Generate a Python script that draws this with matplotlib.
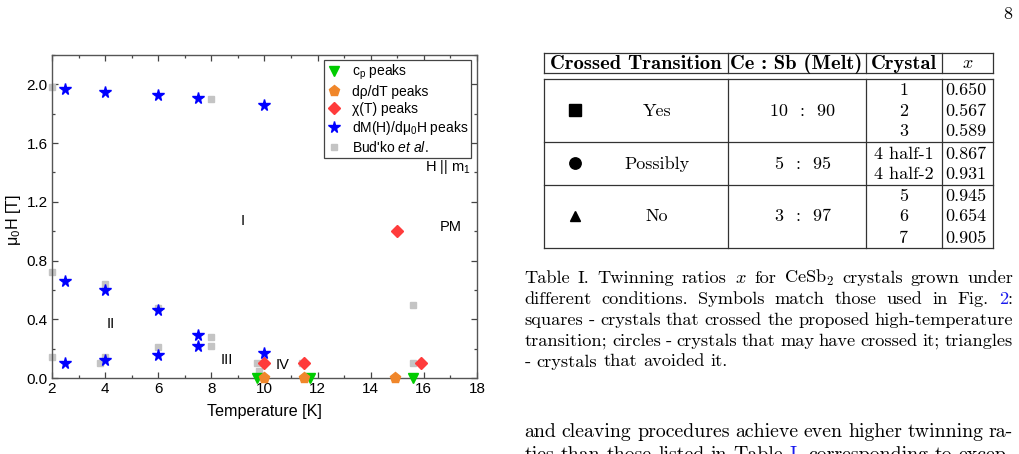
import matplotlib
matplotlib.use('Agg')
import matplotlib.pyplot as plt
from matplotlib.ticker import MultipleLocator, FormatStrFormatter
from matplotlib.lines import Line2D

plt.rcParams['font.family'] = ['Liberation Sans', 'DejaVu Sans']
plt.rcParams['mathtext.fontset'] = 'custom'
plt.rcParams['mathtext.rm'] = 'Liberation Sans'
plt.rcParams['mathtext.it'] = 'Liberation Sans:italic'
plt.rcParams['mathtext.bf'] = 'Liberation Sans:bold'

# ---------------- data ----------------
cp_T = [9.7, 11.7, 15.6]
cp_H = [0.0, 0.0, 0.0]
drho_T = [10.0, 11.5, 14.9]
drho_H = [0.0, 0.0, 0.0]
chi_T = [10.0, 11.5, 15.0, 15.9]
chi_H = [0.10, 0.10, 1.00, 0.10]
dM_T = [2.5, 4.0, 6.0, 7.5, 10.0, 2.5, 4.0, 6.0, 7.5, 7.5, 6.0, 4.0, 2.5, 10.0]
dM_H = [1.97, 1.95, 1.93, 1.91, 1.86, 0.66, 0.60, 0.46, 0.29, 0.22, 0.16, 0.12, 0.10, 0.17]
budko_T = [2.0, 8.0, 2.0, 4.0, 6.0, 8.0, 8.0, 6.0, 2.0, 3.8, 4.0, 9.7, 9.8, 11.4, 15.6, 15.6]
budko_H = [1.98, 1.90, 0.72, 0.64, 0.48, 0.28, 0.22, 0.21, 0.14, 0.10, 0.14, 0.10, 0.05, 0.10, 0.50, 0.10]

legend_labels = ['c$_\\mathregular{p}$ peaks', 'dρ/dT peaks', 'χ(T) peaks',
                 'dM(H)/dμ$_\\mathregular{0}$H peaks', "Bud'ko $\\it{et\\ al.}$"]
x_ticks = [2, 4, 6, 8, 10, 12, 14, 16, 18]
y_ticks = [0.0, 0.4, 0.8, 1.2, 1.6, 2.0]

region_labels = ['I', 'II', 'III', 'IV', 'PM', 'H || m$_\\mathregular{1}$']
region_T = [9.17, 4.23, 8.59, 10.69, 17.0, 16.05]
region_H = [1.07, 0.37, 0.12, 0.09, 1.03, 1.44]

table_header = ['Crossed Transition', 'Ce : Sb (Melt)', 'Crystal', '$x$']
table_groups = ['Yes', 'Possibly', 'No']
table_melts = ['10  :  90', '5  :  95', '3  :  97']
table_crystals = [['1', '2', '3'], ['4 half-1', '4 half-2'], ['5', '6', '7']]
table_x = [['0.650', '0.567', '0.589'], ['0.867', '0.931'], ['0.945', '0.654', '0.905']]

caption_lines = [
    "Table I. Twinning ratios $x$ for CeSb$_2$ crystals grown under",
    "different conditions.  Symbols match those used in Fig. [2]:",
    "squares - crystals that crossed the proposed high-temperature",
    "transition; circles - crystals that may have crossed it; triangles",
    "- crystals that avoided it.",
]
body_lines = [
    "and cleaving procedures achieve even higher twinning ra-",
    "ties than those listed in Table [I], corresponding to excep-",
]

# ---------------- figure ----------------
fig = plt.figure(figsize=(10.2, 4.54), dpi=100)
pg = fig.add_axes([0, 0, 1, 1])
pg.set_xlim(0, 1020)
pg.set_ylim(454, 0)
pg.axis('off')

ax = fig.add_axes([52 / 1020, 1 - 378 / 454, 425 / 1020, 323 / 454])
ax.set_xlim(2, 18)
ax.set_ylim(0, 2.2)

ax.plot(budko_T, budko_H, ls='none', marker='s', ms=5, color='#C4C4C4',
        clip_on=False, zorder=2, label=legend_labels[4])
ax.plot(dM_T, dM_H, ls='none', marker='*', ms=8.5, color='#0000FF',
        clip_on=False, zorder=5, label=legend_labels[3])
ax.plot(chi_T, chi_H, ls='none', marker='D', ms=6, color='#FF3B3B',
        clip_on=False, zorder=4, label=legend_labels[2])
ax.plot(cp_T, cp_H, ls='none', marker='v', ms=7.5, color='#00CC00',
        clip_on=False, zorder=3, label=legend_labels[0])
ax.plot(drho_T, drho_H, ls='none', marker='p', ms=8, color='#F0862A',
        clip_on=False, zorder=4, label=legend_labels[1])

handles, labels = ax.get_legend_handles_labels()
order = [labels.index(l) for l in legend_labels]
leg = ax.legend([handles[i] for i in order], [labels[i] for i in order],
                loc='upper right', bbox_to_anchor=(0.986, 0.985),
                borderaxespad=0, fontsize=10, frameon=True, fancybox=False,
                edgecolor='#444444', framealpha=1, handlelength=1.0,
                handletextpad=0.8, labelspacing=0.22, borderpad=0.2,
                numpoints=1)
leg.get_frame().set_linewidth(0.9)

ax.xaxis.set_minor_locator(MultipleLocator(1))
ax.yaxis.set_minor_locator(MultipleLocator(0.2))
ax.set_xticks(x_ticks)
ax.set_yticks(y_ticks)
ax.yaxis.set_major_formatter(FormatStrFormatter('%.1f'))
ax.tick_params(which='both', direction='in', top=True, right=True,
               color='#444444', labelsize=11, width=0.9)
ax.tick_params(which='major', length=4, pad=3)
ax.tick_params(which='minor', length=2.5)
for s in ax.spines.values():
    s.set_color('#555555')
    s.set_linewidth(1.0)

ax.set_xlabel('Temperature [K]', fontsize=11.6)
ax.set_ylabel('μ$_\\mathregular{0}$H [T]', fontsize=11.6)
ax.xaxis.set_label_coords(0.5, -0.082)
ax.yaxis.set_label_coords(-0.068, 0.49)

for lab, t, h in zip(region_labels, region_T, region_H):
    ha = 'left' if lab.startswith('H') else 'center'
    ax.text(t, h, lab, fontsize=10.5, ha=ha, va='center', zorder=6)

# ---------------- page: number, table ----------------
serif = dict(family='cmr10', math_fontfamily='cm')
pg.text(1008, 19, '8', fontsize=13, ha='center', va='baseline', **serif)

lc = '#333333'
lw = 0.9
xs_cols = [544, 727.7, 865.7, 942.3, 993.3]
def hline(y):
    pg.add_line(Line2D([xs_cols[0], xs_cols[-1]], [y, y], color=lc, lw=lw))
def vline(x, y0, y1):
    pg.add_line(Line2D([x, x], [y0, y1], color=lc, lw=lw))

for y in [52.7, 73.3, 79.3, 141.7, 185.0, 248.3]:
    hline(y)
for x in xs_cols:
    vline(x, 52.7, 73.3)
    vline(x, 79.3, 248.3)

fs_tab = 13
hdr_x = [636, 796.5, 904, 967.7]
for i, (h, x) in enumerate(zip(table_header, hdr_x)):
    if i < 3:
        pg.text(x, 68.8, h, fontsize=14.8, ha='center', va='baseline',
                family='cmb10', math_fontfamily='cm')
    else:
        pg.text(x, 68.5, h, fontsize=fs_tab, ha='center', va='baseline', **serif)

row_bases = [[95.4, 116.0, 136.4], [159.4, 179.4], [201.0, 221.0, 242.7]]
group_base = [116.0, 169.4, 221.0]
group_marker = ['s', 'o', '^']
group_ms = [8, 8.2, 6.8]
group_my = [110.0, 163.3, 216.0]
for g in range(3):
    pg.plot([575], [group_my[g]], marker=group_marker[g], ms=group_ms[g],
            color='black', ls='none')
    pg.text(657, group_base[g], table_groups[g], fontsize=fs_tab, ha='center',
            va='baseline', **serif)
    pg.text(803, group_base[g], table_melts[g], fontsize=fs_tab, ha='center',
            va='baseline', **serif)
    for c, xv, yb in zip(table_crystals[g], table_x[g], row_bases[g]):
        pg.text(904, yb, c, fontsize=fs_tab, ha='center', va='baseline', **serif)
        pg.text(945.5, yb, xv, fontsize=fs_tab, ha='left', va='baseline', **serif)

# ---------------- caption / body text (justified) ----------------
fig.canvas.draw()
r = fig.canvas.get_renderer()

def parse_word(w):
    segs = []
    buf = ''
    i = 0
    while i < len(w):
        if w[i] == '[':
            if buf:
                segs.append((buf, 'black'))
                buf = ''
            j = w.index(']', i)
            segs.append((w[i + 1:j], '#1a1aee'))
            i = j + 1
        else:
            buf += w[i]
            i += 1
    if buf:
        segs.append((buf, 'black'))
    return segs

def draw_line(line, y, fs, justify=True, x0=524.5, x1=1013.0):
    words = line.split()
    arts = []
    widths = []
    for w in words:
        segs = []
        ww = 0
        for s, c in parse_word(w):
            t = pg.text(0, y, s, color=c, fontsize=fs, ha='left',
                        va='baseline', **serif)
            bw = t.get_window_extent(renderer=r).width
            segs.append((t, bw))
            ww += bw
        arts.append(segs)
        widths.append(ww)
    if justify and len(words) > 1:
        gap = (x1 - x0 - sum(widths)) / (len(words) - 1)
    else:
        gap = 0.333 * fs * 100 / 72
    x = x0
    for segs, ww in zip(arts, widths):
        xx = x
        for t, bw in segs:
            t.set_x(xx)
            xx += bw
        x += ww + gap

cap_bases = [282.7, 304.0, 325.0, 346.0, 366.5]
for i, (ln, yb) in enumerate(zip(caption_lines, cap_bases)):
    draw_line(ln, yb, 13.2, justify=(i < len(caption_lines) - 1))
draw_line(body_lines[0], 437.3, 14.3)
draw_line(body_lines[1], 459.5, 14.3)

fig.savefig('out.png', dpi=100)
